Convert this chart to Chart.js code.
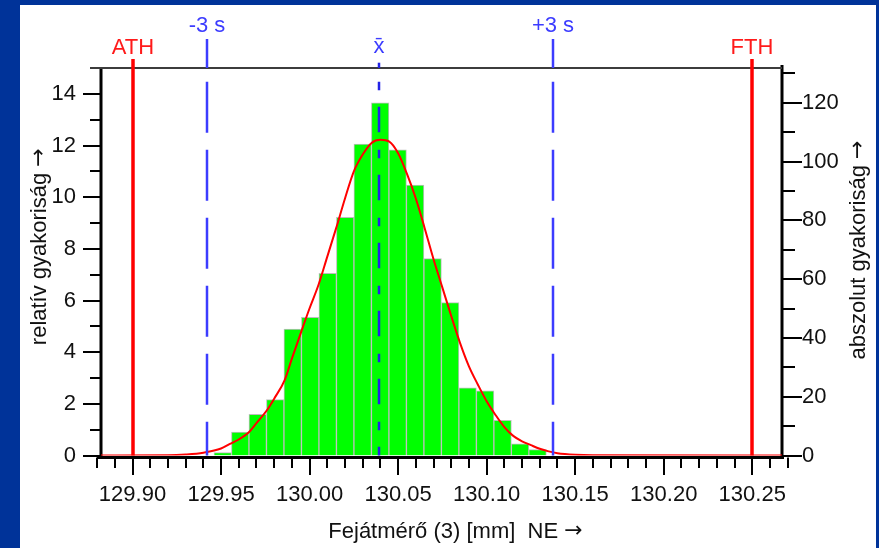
<!DOCTYPE html>
<html>
<head>
<meta charset="utf-8">
<script src="https://cdn.jsdelivr.net/npm/chart.js@4"></script>
<style>
  html, body { margin: 0; padding: 0; background: #003399; width: 879px; height: 548px; overflow: hidden; }
  #wrap { position: absolute; left: 20px; top: 5px; width: 856px; height: 543px; background: #fff; }
  canvas { display: block; }
</style>
</head>
<body>
<div id="wrap"><canvas id="c" width="856" height="543"></canvas></div>
<script>
// Histogram classes (mm) and absolute frequencies per class
const classStart = 129.9460;
const classWidth = 0.00988;
const counts = [1, 8, 14, 19, 43, 47, 62, 81, 106, 120, 104, 92, 67, 52, 23, 22, 12, 4, 2];

// Fitted normal curve, relative frequency in %
const curveX = [129.8822, 129.92, 129.93, 129.94, 129.95, 129.955, 129.96, 129.966, 129.97, 129.976,
                129.98, 129.986, 129.99, 129.996, 130.00, 130.005, 130.01, 130.015, 130.02, 130.025,
                130.03, 130.035, 130.04, 130.045, 130.05, 130.055, 130.06, 130.065, 130.07, 130.075,
                130.08, 130.085, 130.09, 130.095, 130.10, 130.105, 130.11, 130.115, 130.12, 130.125,
                130.13, 130.135, 130.14, 130.15, 130.16, 130.2668];
const curveY = [0, 0.01, 0.04, 0.11, 0.27, 0.45, 0.62, 0.92, 1.25, 1.76,
                2.2, 2.93, 3.75, 4.93, 5.7, 6.6, 7.7, 8.8, 9.95, 11.0,
                11.65, 12.1, 12.22, 12.15, 11.7, 10.9, 9.95, 8.8, 7.6, 6.5,
                5.4, 4.35, 3.45, 2.75, 2.1, 1.57, 1.1, 0.76, 0.55, 0.40,
                0.26, 0.16, 0.09, 0.03, 0.01, 0];

// Tolerance limits, mean and ±3s markers
const limitNames = ['ATH', 'FTH'];
const limitValues = [129.90, 130.25];
const sigmaNames = ['-3 s', '+3 s'];
const sigmaValues = [129.9418, 130.1373];
const meanName = 'x\u0304';
const meanValue = 130.0392;

// Axes
const xRange = [129.8822, 130.2668];
const xTickRange = [129.88, 130.27];
const relMax = 15;
const xTitle = 'Fejátmérő (3) [mm]  NE';
const yTitle = 'relatív gyakoriság';
const y2Title = 'abszolut gyakoriság';
const arrow = '→';

const FONT = '"Liberation Sans", Arial, Helvetica, sans-serif';
const ARROW_FONT = '22px "DejaVu Sans", sans-serif';
const total = counts.reduce((s, v) => s + v, 0);
const absMax = relMax * total / 100;

const barData = counts.map((c, i) => ({ x: classStart + (i + 0.5) * classWidth, y: c }));
const curveData = curveX.map((v, i) => ({ x: v, y: curveY[i] }));

function seg(ctx, x0, y0, x1, y1) {
  ctx.beginPath(); ctx.moveTo(x0, y0); ctx.lineTo(x1, y1); ctx.stroke();
}

// Title followed by an arrow, centred on (0, 0) along the baseline
function titleWithArrow(ctx, text) {
  ctx.font = '22px ' + FONT;
  const w1 = ctx.measureText(text + ' ').width;
  ctx.font = ARROW_FONT;
  const w2 = ctx.measureText(arrow).width;
  const x0 = -(w1 + w2) / 2;
  ctx.textAlign = 'left';
  ctx.font = '22px ' + FONT;
  ctx.fillText(text + ' ', x0, 0);
  ctx.font = ARROW_FONT;
  ctx.fillText(arrow, x0 + w1, -1);
}

// Axis lines, tick marks, reference lines and titles
const frame = {
  id: 'frame',
  beforeDatasetsDraw(chart) {
    const { ctx, chartArea: a, scales: { x, y, y2 } } = chart;
    ctx.save();
    ctx.strokeStyle = '#000';
    ctx.lineWidth = 2;
    const n = Math.round((xTickRange[1] - xTickRange[0]) / 0.01);
    for (let i = 0; i <= n; i++) {
      const v = xTickRange[0] + i * 0.01;
      const px = Math.round(x.getPixelForValue(v));
      const major = Math.round(v * 100) % 5 === 0;
      seg(ctx, px, a.bottom + 2, px, a.bottom + (major ? 19.5 : 12.5));
    }
    for (let v = 0; v <= relMax; v++) {
      const py = Math.round(y.getPixelForValue(v));
      seg(ctx, a.left, py, a.left - (v % 2 === 0 ? 18 : 11), py);
    }
    for (let v = 0; v <= absMax; v += 10) {
      const py = Math.round(y2.getPixelForValue(v));
      seg(ctx, a.right, py, a.right + (v % 20 === 0 ? 20 : 13), py);
    }
    ctx.lineWidth = 3;
    seg(ctx, a.left - 4, a.bottom + 2, a.right + 2, a.bottom + 2);
    seg(ctx, a.left, a.top, a.left, a.bottom + 3.5);
    seg(ctx, a.right, a.top - 3, a.right, a.bottom + 3.5);
    ctx.strokeStyle = '#3c3c3c';
    ctx.lineWidth = 2;
    seg(ctx, a.left - 11, a.top, a.right, a.top);
    ctx.restore();
  },
  afterDatasetsDraw(chart) {
    const { ctx, chartArea: a, scales: { x } } = chart;
    ctx.save();
    ctx.font = '22px ' + FONT;
    ctx.textAlign = 'center';
    ctx.textBaseline = 'alphabetic';

    // tolerance limits
    ctx.strokeStyle = '#ff0000';
    ctx.fillStyle = '#ff1a1a';
    ctx.lineWidth = 3.5;
    limitValues.forEach((v, i) => {
      const px = Math.round(x.getPixelForValue(v));
      seg(ctx, px, a.top - 9, px, a.bottom);
      ctx.fillText(limitNames[i], px, a.top - 14);
    });

    // ±3s lines
    ctx.strokeStyle = '#3c3cff';
    ctx.fillStyle = '#3c3cff';
    ctx.lineWidth = 2.5;
    sigmaValues.forEach((v, i) => {
      const px = Math.round(x.getPixelForValue(v));
      seg(ctx, px, a.top - 29, px, a.top);
      ctx.setLineDash([51, 17]);
      ctx.lineDashOffset = 54.3;
      seg(ctx, px, a.top, px, a.bottom);
      ctx.setLineDash([]);
      ctx.fillText(sigmaNames[i], px, a.top - 36.3);
    });

    // mean line
    ctx.strokeStyle = '#2323e6';
    ctx.fillStyle = '#3c3cff';
    const pm = Math.round(x.getPixelForValue(meanValue));
    seg(ctx, pm, a.top - 5.3, pm, a.top);
    ctx.setLineDash([8.5, 16.5, 25.5, 17.5]);
    ctx.lineDashOffset = 54.3;
    seg(ctx, pm, a.top, pm, a.bottom);
    ctx.setLineDash([]);
    ctx.fillText(meanName, pm, a.top - 15);

    // axis titles
    ctx.fillStyle = '#111';
    ctx.save();
    ctx.translate((a.left + a.right) / 2 + 14, 533.3);
    titleWithArrow(ctx, xTitle);
    ctx.restore();
    ctx.save();
    ctx.translate(25.5, 241.7);
    ctx.rotate(-Math.PI / 2);
    titleWithArrow(ctx, yTitle);
    ctx.restore();
    ctx.save();
    ctx.translate(845.4, 245);
    ctx.rotate(-Math.PI / 2);
    titleWithArrow(ctx, y2Title);
    ctx.restore();
    ctx.restore();
  }
};

Chart.defaults.font.family = FONT;
Chart.defaults.font.size = 22;
Chart.defaults.color = '#111';

new Chart(document.getElementById('c'), {
  data: {
    datasets: [
      {
        type: 'line',
        data: curveData,
        yAxisID: 'y',
        borderColor: '#ff0000',
        borderWidth: 2,
        pointRadius: 0,
        cubicInterpolationMode: 'monotone',
        order: 0
      },
      {
        type: 'bar',
        data: barData,
        yAxisID: 'y2',
        backgroundColor: '#00ff00',
        borderColor: '#bdbdbd',
        borderWidth: 1,
        barPercentage: 1,
        categoryPercentage: 1,
        order: 1
      }
    ]
  },
  options: {
    responsive: false,
    animation: false,
    devicePixelRatio: 1,
    layout: { padding: { top: 63, left: 0, right: 0, bottom: 0 } },
    plugins: { legend: { display: false }, tooltip: { enabled: false } },
    scales: {
      x: {
        type: 'linear',
        offset: false,
        min: xRange[0],
        max: xRange[1],
        grid: { display: false, drawTicks: false },
        border: { display: false },
        ticks: {
          stepSize: 0.05,
          includeBounds: false,
          autoSkip: false,
          maxRotation: 0,
          padding: 26,
          callback: v => Number(v).toFixed(2)
        },
        afterFit: s => { s.height = 92.5; }
      },
      y: {
        position: 'left',
        min: 0,
        max: relMax,
        grid: { display: false, drawTicks: false },
        border: { display: false },
        ticks: { stepSize: 2, includeBounds: false, padding: 25 },
        afterFit: s => { s.width = 81; }
      },
      y2: {
        position: 'right',
        min: 0,
        max: absMax,
        grid: { display: false, drawTicks: false },
        border: { display: false },
        ticks: { stepSize: 20, includeBounds: false, padding: 20 },
        afterFit: s => { s.width = 94; }
      }
    }
  },
  plugins: [frame]
});
</script>
</body>
</html>
